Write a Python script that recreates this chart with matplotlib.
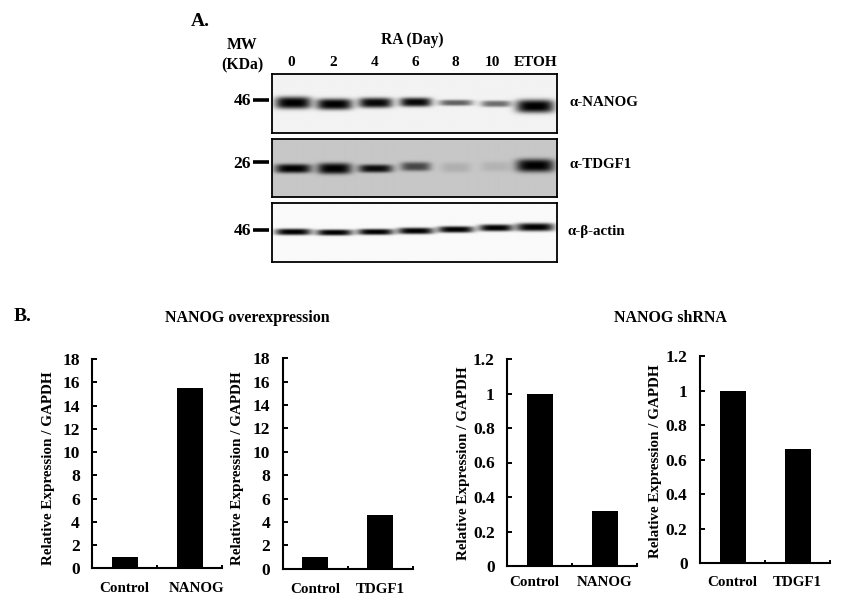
import numpy as np
import matplotlib
matplotlib.use('Agg')
import matplotlib.pyplot as plt

W, H = 844, 606
plt.rcParams['font.family'] = ['Liberation Serif', 'DejaVu Serif']
plt.rcParams['font.weight'] = 'bold'

# blot values, one per lane
lanes = ['0', '2', '4', '6', '8', '10', 'ETOH']
nanog_strength = [1.0, 1.0, 0.97, 0.97, 0.6, 0.55, 1.0]
nanog_halfwidth = [18, 18, 17, 16, 17, 15, 19]
nanog_thickness = [6, 5.5, 5, 4.5, 3, 3.2, 6.5]
nanog_y = [103.3, 104.7, 103.3, 102.7, 103.3, 104.3, 106.7]
tdgf1_strength = [1.0, 1.0, 0.95, 0.65, 0.12, 0.1, 1.0]
tdgf1_halfwidth = [18, 17, 17, 15, 15, 15, 19]
tdgf1_thickness = [4.5, 5.5, 4, 4.5, 5, 5, 6.5]
tdgf1_y = [169, 169, 169, 167, 168, 167, 166]
actin_strength = [1.0, 1.0, 1.0, 1.0, 1.0, 1.0, 1.0]
actin_halfwidth = [18, 18, 18, 18, 18, 17, 19]
actin_thickness = [3.2, 3, 3, 3.2, 3.2, 3.4, 4]
actin_y = [231.7, 232.3, 231.7, 230.7, 229.3, 227.7, 227]

# bar values
over_nanog = [1, 15.5]
over_tdgf1 = [1, 4.6]
sh_nanog = [1, 0.32]
sh_tdgf1 = [1, 0.66]
labels_nanog = ['Control', 'NANOG']
labels_tdgf1 = ['Control', 'TDGF1']
ticks_over = [0, 2, 4, 6, 8, 10, 12, 14, 16, 18]
ticks_sh = [0, 0.2, 0.4, 0.6, 0.8, 1, 1.2]
ticklabels_sh = ['0', '0.2', '0.4', '0.6', '0.8', '1', '1.2']

lane_x = [293, 334, 375, 415, 455, 495, 534]

fig = plt.figure(figsize=(W / 100, H / 100), dpi=100)


def px_axes(left, top, right, bottom):
    return fig.add_axes([left / W, 1 - bottom / H, (right - left) / W, (bottom - top) / H])


def txt(x, y, s, size=9.5, ha='center', **kw):
    fig.text(x / W, 1 - y / H, s, fontsize=size, ha=ha, va='center', fontweight='bold', **kw)


# Blot panel, bands built from the lane values
def blot(top, bottom, bg, strength, halfwidth, thickness, ys):
    left, right = 272, 557
    ax = px_axes(left, top, right, bottom)
    xx, yy = np.meshgrid(np.arange(left, right, 0.5), np.arange(top, bottom, 0.5))
    img = np.full(xx.shape, float(bg))
    for x0, y0, s, hw, th in zip(lane_x, ys, strength, halfwidth, thickness):
        band = s * np.exp(-((xx - x0) / hw) ** 4 - (np.abs(yy - y0) / th) ** 3)
        img = img * (1 - band)
    ax.imshow(img, cmap='gray', vmin=0, vmax=1, extent=[left, right, bottom, top],
              aspect='auto', interpolation='bilinear')
    ax.set_xticks([])
    ax.set_yticks([])
    for s in ax.spines.values():
        s.set_linewidth(1.3)


blot(74, 133.3, 0.95, nanog_strength, nanog_halfwidth, nanog_thickness, nanog_y)
blot(138.7, 197.3, 0.78, tdgf1_strength, tdgf1_halfwidth, tdgf1_thickness, tdgf1_y)
blot(203.3, 261.7, 0.98, actin_strength, actin_halfwidth, actin_thickness, actin_y)

# Overlay for the MW marker dashes
overlay = fig.add_axes([0, 0, 1, 1])
overlay.set_xlim(0, W)
overlay.set_ylim(H, 0)
overlay.axis('off')
overlay.patch.set_alpha(0)
for y in [100, 162.3, 229.7]:
    overlay.plot([252.7, 269.3], [y, y], color='black', lw=2.6, solid_capstyle='butt')

txt(200, 21, 'A.', size=14)
txt(23, 317, 'B.', size=14)
txt(242, 45, 'MW', size=11.3)
txt(242, 65, '(KDa)', size=11.3)
txt(412, 40, 'RA (Day)', size=11.2)
for x, s in zip([291, 333, 374.5, 415, 455, 492, 536], lanes):
    txt(x, 62, s, size=11)
for y, s in zip([101, 164.5, 231], ['46', '26', '46']):
    txt(251, y, s, size=12.5, ha='right')
txt(569, 102, 'α-NANOG', size=10.8, ha='left')
txt(569, 165, 'α-TDGF1', size=10.8, ha='left')
txt(568, 232, 'α-β-actin', size=10.8, ha='left')
txt(247, 318, 'NANOG overexpression', size=11.5)
txt(670, 318, 'NANOG shRNA', size=11.5)


def bars(box, values, names, yticks, ymax, yticklabels=None, label_x=(0, 1), pad=11):
    ax = px_axes(*box)
    ax.bar([0, 1], values, width=0.4, color='black')
    ax.set_xlim(-0.5, 1.5)
    ax.set_ylim(0, ymax)
    ax.spines['top'].set_visible(False)
    ax.spines['right'].set_visible(False)
    ax.spines['left'].set_linewidth(1.5)
    ax.spines['bottom'].set_linewidth(1.5)
    ax.set_yticks(yticks)
    if yticklabels:
        ax.set_yticklabels(yticklabels)
    ax.tick_params(axis='y', direction='in', length=3.5, width=1.4, pad=9, labelsize=12.5)
    ax.set_xticks([-0.5, 0.5, 1.5])
    ax.set_xticklabels([])
    ax.tick_params(axis='x', direction='in', length=2.5, width=1.4)
    ax.set_xticks(list(label_x), minor=True)
    ax.set_xticklabels(names, minor=True)
    ax.tick_params(axis='x', which='minor', length=0, pad=pad, labelsize=10.8)
    return ax


bars((92.3, 359, 222, 568.3), over_nanog, labels_nanog, ticks_over, 18, label_x=(0, 1.115), pad=10)
bars((282.7, 358.3, 413, 568.7), over_tdgf1, labels_tdgf1, ticks_over, 18, pad=10)
bars((507.3, 359, 637.3, 566), sh_nanog, labels_nanog, ticks_sh, 1.2, ticklabels_sh,
     label_x=(-0.08, 1), pad=7.5)
bars((700, 356, 830, 563.3), sh_tdgf1, labels_tdgf1, ticks_sh, 1.2, ticklabels_sh, pad=9.5)

for x, y in [(49, 468), (237, 468), (464, 463), (656, 461)]:
    fig.text(x / W, 1 - y / H, 'Relative Expression / GAPDH', rotation=90, fontsize=10.9,
             ha='center', va='center', fontweight='bold')

fig.savefig('out.png', dpi=100)
